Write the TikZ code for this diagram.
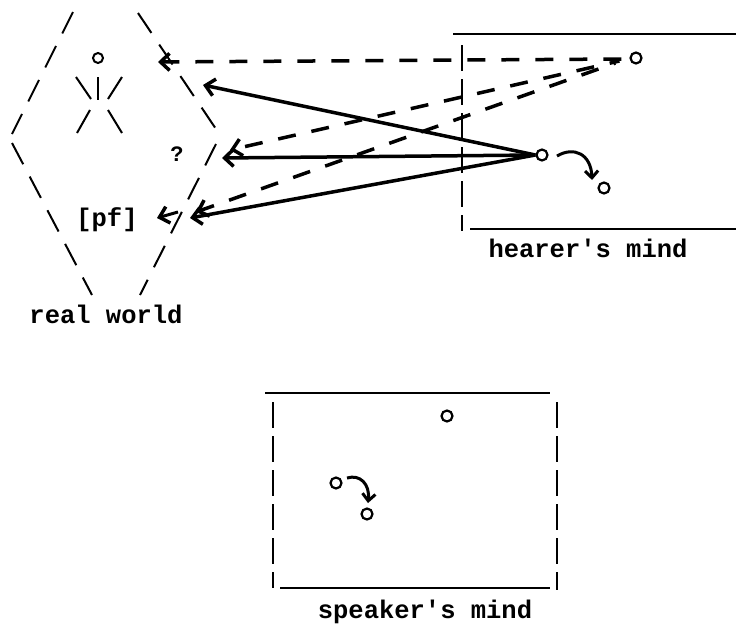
\documentclass[tikz,border=0pt]{standalone}
\usepackage{fontspec}
\setmonofont{Liberation Mono}
\usetikzlibrary{arrows.meta}
\tikzset{
  dot/.style={circle,draw,line width=2.2pt,minimum size=11pt,inner sep=0pt},
  lab/.style={font=\ttfamily\bfseries\fontsize{25.5}{25.5}\selectfont,inner sep=0pt,anchor=base},
  thin dash/.style={line width=2pt,dash pattern=on 24pt off 14pt},
  boxline/.style={line width=2.4pt},
  boxdash/.style={line width=2.2pt,dash pattern=on 26pt off 8pt},
  barb/.style={-{Straight Barb[length=9pt,width=17pt,line width=3.5pt]}},
  solidarr/.style={barb,line width=3.5pt},
  dasharr/.style={barb,line width=3.5pt,dash pattern=on 18pt off 16pt},
  curvarr/.style={-{Straight Barb[length=7pt,width=13pt,line width=3pt]},line width=3pt},
}
\begin{document}
\begin{tikzpicture}[x=1pt,y=-1pt]
\useasboundingbox (0,0) rectangle (736,624);
% real world diamond
\draw[thin dash] (73,12) -- (12,134);
\draw[thin dash] (12,143) -- (92,295);
\draw[thin dash] (138,13) -- (218,132);
\draw[thin dash] (216,144) -- (140,295);
% stick figure
\node[dot,line width=2pt,minimum size=10pt] (head) at (98,58) {};
\draw[line width=2pt] (98,77) -- (98,100);
\draw[line width=2pt] (76,77) -- (91,99);
\draw[line width=2pt] (122,77) -- (108,99);
\draw[line width=2pt] (77,133) -- (90,110);
\draw[line width=2pt] (108,110) -- (122,133);
\node[font=\ttfamily\bfseries\fontsize{22}{22}\selectfont,inner sep=0pt] (q) at (177,154) {?};
\node[lab] (pf) at (107,226) {[pf]};
\coordinate (pftail) at (178,212);
\coordinate (pftip) at (157,218);
\draw[solidarr,line width=3pt] (pftail) -- (pftip);
\node[lab] (rw) at (106,323) {real world};
% hearer's mind
\draw[boxline] (453,34) -- (736,34);
\draw[boxline] (470,229) -- (736,229);
\draw[boxdash] (462,45) -- (462,231);
\node[lab] (hm) at (588,257) {hearer's mind};
\node[dot] (h1) at (636,58) {};
\node[dot] (h2) at (542,155) {};
\node[dot] (h3) at (604,188) {};
\draw[curvarr] (557,156) .. controls (574,146) and (591,154) .. (592,180);
% arrows to real world
\coordinate (t1) at (203,85);
\coordinate (t2) at (222,158);
\coordinate (t3) at (190,218);
\coordinate (d1) at (158,62);
\coordinate (d2) at (230,150);
\coordinate (d3) at (196,212);
\draw[solidarr] (h2.west) -- (t1);
\draw[solidarr] (h2.west) -- (t2);
\draw[solidarr] (h2.west) -- (t3);
\draw[dasharr] ([xshift=-8pt,yshift=-1pt]h1.west) -- (d1);
\draw[dasharr,dash phase=8pt] ([xshift=-10pt,yshift=-3pt]h1.west) -- (d2);
\draw[dasharr,dash phase=16pt] ([xshift=-14pt,yshift=-5pt]h1.west) -- (d3);
% speaker's mind
\draw[boxline] (265,393) -- (550,393);
\draw[boxline] (280,588) -- (550,588);
\draw[boxdash] (273,402) -- (273,588);
\draw[boxdash] (557,402) -- (557,590);
\node[lab] (sm) at (425,618) {speaker's mind};
\node[dot] (s1) at (447,416) {};
\node[dot] (s2) at (336,483) {};
\node[dot] (s3) at (367,514) {};
\draw[curvarr] (347,478) .. controls (360,474) and (370,484) .. (368,503);
\end{tikzpicture}
\end{document}
